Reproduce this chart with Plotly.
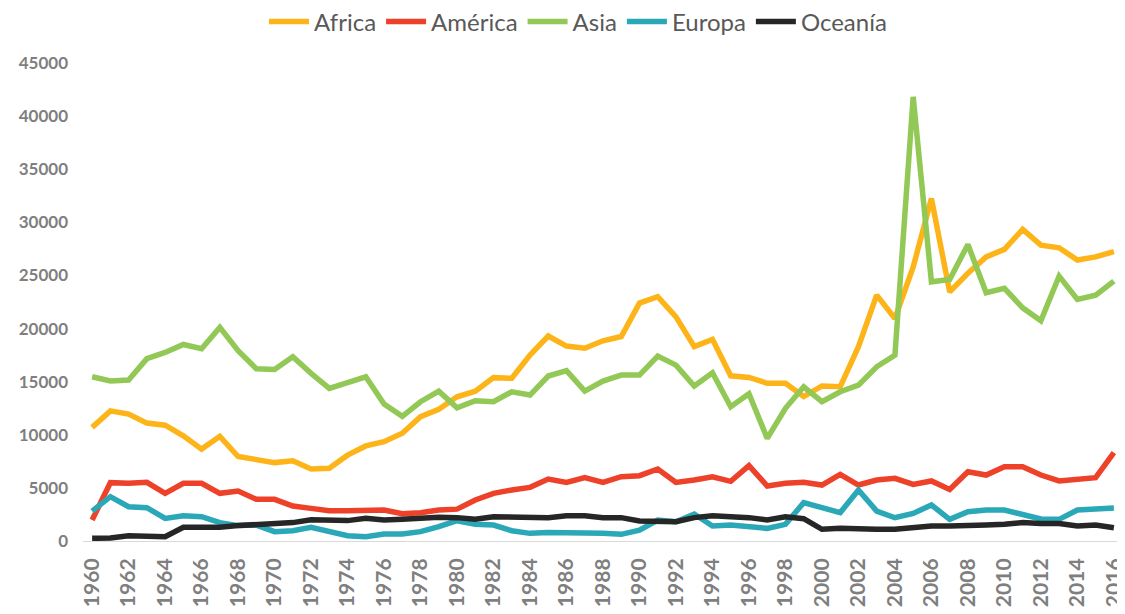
import plotly.graph_objects as go

years = list(range(1960, 2017))

africa = [10700, 12250, 11950, 11100, 10900, 9900, 8650, 9850, 7950, 7700, 7380, 7550, 6780, 6850, 8080, 8950, 9350,
          10150, 11700, 12400, 13580, 14100, 15380, 15320, 17500, 19300, 18350, 18150, 18850, 19250, 22400, 23000, 21100, 18300, 18980, 15550, 15400,
          14850, 14850, 13600, 14600, 14520, 18300, 23150, 20950, 25800, 32250, 23450, 25200, 26750, 27450, 29330, 27850, 27600, 26450, 26750, 27250]
america = [1980, 5490, 5430, 5520, 4490, 5430, 5430, 4490, 4710, 3920, 3920, 3290, 3070, 2850, 2850, 2920, 2920,
           2570, 2670, 2920, 3000, 3860, 4490, 4800, 5050, 5830, 5520, 5960, 5520, 6050, 6150, 6780, 5520, 5740, 6050, 5620, 7100,
           5180, 5430, 5520, 5270, 6270, 5270, 5740, 5900, 5330, 5650, 4860, 6520, 6210, 7000, 7000, 6210, 5650, 5840, 5960, 8310]
asia = [15460, 15060, 15150, 17160, 17750, 18500, 18100, 20110, 17910, 16210, 16150, 17340, 15780, 14370, 14900, 15460, 12890,
        11730, 13110, 14110, 12540, 13200, 13110, 14050, 13740, 15530, 16030, 14110, 15060, 15620, 15620, 17410, 16560, 14590, 15840, 12640, 13870,
        9660, 12490, 14520, 13110, 14050, 14680, 16400, 17500, 41810, 24400, 24620, 27910, 23370, 23780, 21950, 20730, 24940, 22740, 23150, 24470]
europa = [2820, 4170, 3230, 3140, 2130, 2380, 2290, 1730, 1450, 1500, 880, 960, 1290, 960, 500, 410, 660,
          650, 880, 1350, 1910, 1570, 1500, 970, 720, 790, 790, 790, 720, 630, 1030, 1980, 1820, 2540, 1410, 1500, 1380,
          1190, 1570, 3610, 3140, 2670, 4800, 2820, 2190, 2600, 3390, 2040, 2760, 2920, 2920, 2450, 2070, 2040, 2920, 3010, 3100]
oceania = [250, 280, 500, 410, 410, 1290, 1290, 1290, 1450, 1570, 1730, 1730, 2000, 1920, 1920, 2130, 1980,
           2050, 2200, 2230, 2200, 2040, 2290, 2290, 2290, 2200, 2380, 2380, 2200, 2200, 1880, 1880, 1820, 2200, 2380, 2290, 2200,
           1980, 2290, 2100, 1100, 1190, 1100, 1100, 1100, 1250, 1410, 1410, 1410, 1500, 1570, 1730, 1650, 1650, 1410, 1500, 1250]

series = [
    ("Africa", africa, "#FDB419"),
    ("América", america, "#EE4129"),
    ("Asia", asia, "#92C855"),
    ("Europa", europa, "#2AA8B8"),
    ("Oceanía", oceania, "#262626"),
]

fig = go.Figure()
for name, vals, col in series:
    fig.add_trace(go.Scatter(x=years, y=vals, name=name, mode="lines",
                             line=dict(color=col, width=5.5)))

# page body has an 8px margin, so the figure is drawn 8px smaller and shifted
fig.update_layout(
    width=1117, height=606,
    paper_bgcolor="white", plot_bgcolor="white",
    margin=dict(l=75, r=2, t=55, b=73),
    font=dict(family="Lato", color="#7F7F7F"),
    legend=dict(orientation="h", x=0.476, xanchor="center", yref="container", y=0.977, yanchor="middle",
                font=dict(size=24, color="#595959"), traceorder="normal", itemwidth=40),
    showlegend=True,
)
fig.update_xaxes(range=[1959.5, 2016.5], tickmode="linear", tick0=1960, dtick=2, tickangle=-90,
                 tickfont=dict(size=21, family="Lato", weight="bold"), showgrid=False, zeroline=False,
                 showline=True, linecolor="#D9D9D9", linewidth=1, automargin=False, ticklabelstandoff=8)
fig.update_yaxes(range=[0, 45000], tickmode="linear", dtick=5000, tickformat="d", showgrid=False, zeroline=False,
                 tickfont=dict(size=17, family="Lato", weight="bold"), ticklabelstandoff=14, automargin=False)

fig.write_html("out.html")
